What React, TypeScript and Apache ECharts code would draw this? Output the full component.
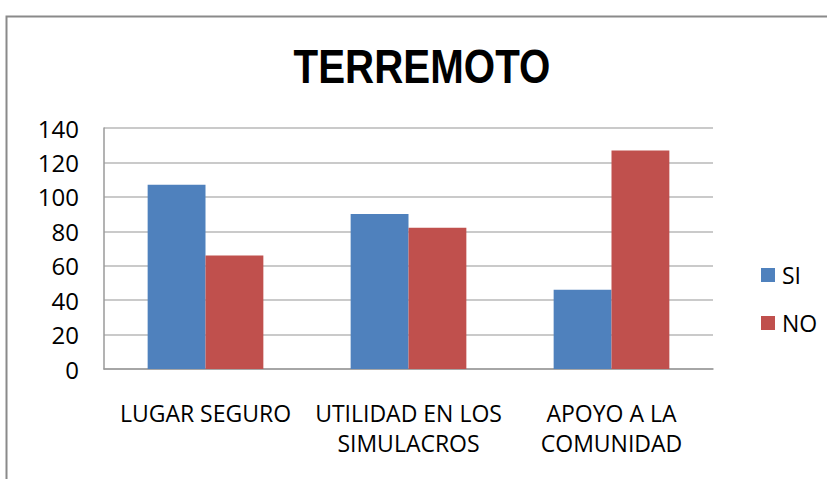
import React, { useEffect, useRef } from "react";
import * as echarts from "echarts";

const categories = ["LUGAR SEGURO", "UTILIDAD EN LOS\nSIMULACROS", "APOYO A LA\nCOMUNIDAD"];
const siValues = [107, 90, 46];
const noValues = [66, 82, 127];
const seriesNames = ["SI", "NO"];
const titleText = "TERREMOTO";

const FONT = "'Open Sans', sans-serif";

export default function App() {
  const ref = useRef<HTMLDivElement>(null);
  useEffect(() => {
    const chart = echarts.init(ref.current!, null, { renderer: "svg" });
    chart.setOption({
      animation: false,
      backgroundColor: "#ffffff",
      graphic: [
        {
          type: "rect",
          shape: { x: 6.5, y: 16.5, width: 900, height: 600 },
          style: { fill: "none", stroke: "#8a8a8a", lineWidth: 2 },
          silent: true,
        },
        {
          type: "text",
          x: 422,
          y: 66,
          scaleX: 0.84,
          style: {
            text: titleText,
            fontFamily: "'Liberation Sans', Arial, sans-serif",
            fontWeight: "bold",
            fontSize: 48,
            fill: "#000",
            textAlign: "center",
            textVerticalAlign: "middle",
          },
          silent: true,
        },
      ],
      legend: {
        orient: "vertical",
        left: 756,
        top: 258,
        itemWidth: 14,
        itemHeight: 14,
        itemGap: 24,
        icon: "rect",
        textStyle: { fontFamily: FONT, fontSize: 23, lineHeight: 24, color: "#000", padding: [0, 0, 0, 2] },
        data: seriesNames,
      },
      grid: { left: 104, top: 128, right: 114, bottom: 110, containLabel: false },
      xAxis: {
        type: "category",
        data: categories,
        axisLine: { show: true, lineStyle: { color: "#9a9a9a", width: 1.5 } },
        axisTick: { show: false },
        axisLabel: {
          fontFamily: FONT,
          fontSize: 23,
          color: "#000",
          margin: 29,
          lineHeight: 30,
          interval: 0,
        },
      },
      yAxis: {
        type: "value",
        min: 0,
        max: 140,
        interval: 20,
        axisLine: { show: true, lineStyle: { color: "#9a9a9a", width: 1.5 } },
        axisTick: { show: false },
        axisLabel: { fontFamily: FONT, fontSize: 24, color: "#000", margin: 25 },
        splitLine: { show: true, lineStyle: { color: "#b8b8b8", width: 1.5 } },
      },
      series: [
        {
          name: seriesNames[0],
          type: "bar",
          data: siValues,
          itemStyle: { color: "#4F81BD" },
          barGap: "0%",
          barCategoryGap: "43%",
        },
        {
          name: seriesNames[1],
          type: "bar",
          data: noValues,
          itemStyle: { color: "#C0504D" },
          barGap: "0%",
          barCategoryGap: "43%",
        },
      ],
    });
    return () => chart.dispose();
  }, []);
  return (
    <div
      ref={ref}
      style={{ position: "absolute", left: 0, top: 0, width: 827, height: 479 }}
    />
  );
}
